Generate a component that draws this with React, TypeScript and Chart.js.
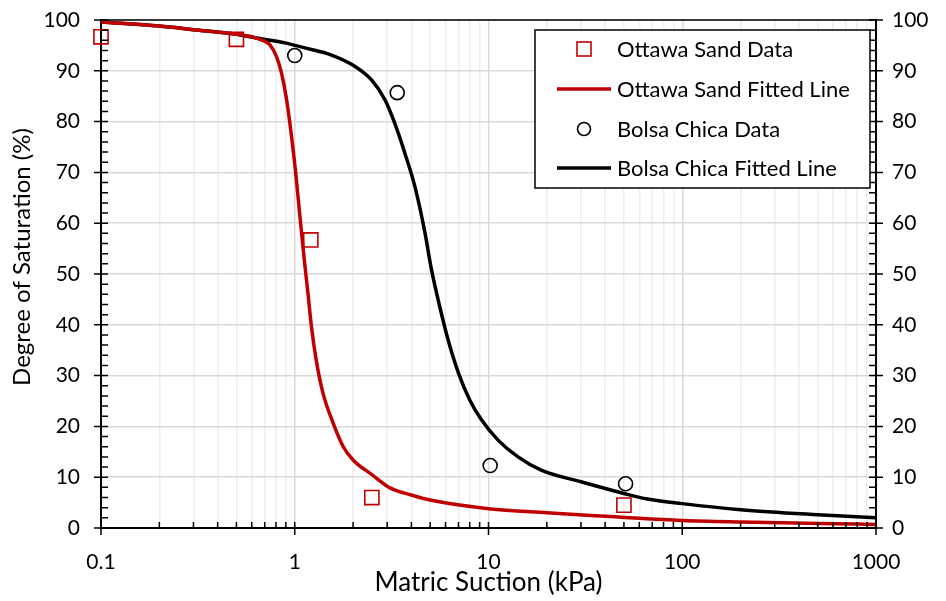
import { useEffect, useRef } from "react";
import { Chart, registerables } from "chart.js";

Chart.register(...registerables);

// ---- data ----
const xDecades = [0.1, 1, 10, 100, 1000];
const xDecadeLabels = ["0.1", "1", "10", "100", "1000"];
const xMinorMultipliers = [2, 3, 4, 5, 6, 7, 8, 9];
const yTickStep = 10;
const yMinorStep = 2;

const ottawaDataX = [0.1, 0.5, 1.21, 2.5, 50];
const ottawaDataY = [96.7, 96.2, 56.7, 6.0, 4.5];

const bolsaDataX = [1.0, 3.38, 10.2, 51];
const bolsaDataY = [93.0, 85.7, 12.3, 8.7];

const ottawaFitX = [0.1, 0.2, 0.3, 0.5, 0.6, 0.65, 0.7, 0.745, 0.805, 0.855, 0.908, 0.963, 1.01, 1.06, 1.12, 1.17, 1.22, 1.29, 1.4, 1.58, 1.78, 2.0, 2.5, 3.1, 4.0, 5.0, 10, 20, 45, 60, 100, 200, 500, 1000];
const ottawaFitY = [99.6, 98.8, 98.1, 97.2, 96.7, 96.3, 95.8, 95.1, 92.8, 89.5, 84.3, 77.0, 70.1, 61.9, 52.8, 46.2, 39.6, 33.1, 26.5, 20.6, 16.0, 13.4, 10.5, 7.9, 6.5, 5.5, 3.8, 3.0, 2.2, 1.9, 1.5, 1.2, 0.9, 0.7];

const bolsaFitX = [0.1, 0.2, 0.3, 0.5, 0.65, 0.89, 1.0, 1.22, 1.5, 2.0, 2.49, 2.92, 3.28, 3.7, 4.17, 4.69, 5.07, 5.6, 6.19, 7.0, 8.0, 9.2, 11.2, 14.2, 18.7, 30, 50, 66, 100, 200, 500, 1000];
const bolsaFitY = [99.6, 98.8, 98.1, 97.2, 96.4, 95.5, 95.0, 94.2, 93.3, 91.1, 88.2, 84.3, 79.7, 73.8, 67.2, 58.3, 51.0, 43.6, 37.0, 30.5, 25.2, 21.3, 17.3, 14.0, 11.4, 9.1, 6.8, 5.7, 4.8, 3.6, 2.6, 2.0];

const seriesLabels = ["Ottawa Sand Data", "Ottawa Sand Fitted Line", "Bolsa Chica Data", "Bolsa Chica Fitted Line"];
const xTitle = "Matric Suction (kPa)";
const yTitle = "Degree of Saturation (%)";

const RED = "#c00000";
const BLACK = "#000000";
const FONT = "Lato, 'Open Sans', sans-serif";

const zip = (xs: number[], ys: number[]) => xs.map((x, i) => ({ x, y: ys[i] }));

const allXTicks: number[] = [];
xDecades.forEach((d, i) => {
  allXTicks.push(d);
  if (i < xDecades.length - 1) xMinorMultipliers.forEach((m) => allXTicks.push(d * m));
});
const isDecade = (v: number) => xDecades.some((d) => Math.abs(d - v) / d < 1e-6);

const decorPlugin = {
  id: "decor",
  afterDraw(chart: any) {
    const { ctx, chartArea: a, scales } = chart;
    const xs = scales.x;
    const ys = scales.y;
    ctx.save();
    ctx.strokeStyle = "#000";
    // top border
    ctx.lineWidth = 1.3;
    ctx.beginPath();
    ctx.moveTo(a.left, a.top);
    ctx.lineTo(a.right, a.top);
    ctx.stroke();
    ctx.lineWidth = 1.5;
    ctx.beginPath();
    allXTicks.forEach((v) => {
      const px = xs.getPixelForValue(v);
      if (isDecade(v)) {
        ctx.moveTo(px, a.bottom - 6);
        ctx.lineTo(px, a.bottom + 7);
      } else {
        ctx.moveTo(px, a.bottom - 6);
        ctx.lineTo(px, a.bottom);
      }
    });
    for (let v = 0; v <= 100; v += yMinorStep) {
      const py = ys.getPixelForValue(v);
      if (v % yTickStep === 0) {
        ctx.moveTo(a.left - 7, py);
        ctx.lineTo(a.left + 7, py);
        ctx.moveTo(a.right - 7, py);
        ctx.lineTo(a.right + 7, py);
      } else {
        ctx.moveTo(a.left, py);
        ctx.lineTo(a.left + 7, py);
        ctx.moveTo(a.right - 7, py);
        ctx.lineTo(a.right, py);
      }
    }
    ctx.stroke();

    // y axis title
    ctx.save();
    ctx.translate(22.5, a.top + 237);
    ctx.rotate(-Math.PI / 2);
    ctx.fillStyle = "#000";
    ctx.font = `24px ${FONT}`;
    ctx.textAlign = "center";
    ctx.textBaseline = "middle";
    ctx.fillText(yTitle, 0, 0);
    ctx.restore();

    // legend
    const bw = 335, bh = 158;
    const bx = a.right - 6 - bw;
    const by = a.top + 10;
    ctx.fillStyle = "#fff";
    ctx.fillRect(bx, by, bw, bh);
    ctx.lineWidth = 1.5;
    ctx.strokeStyle = "#000";
    ctx.strokeRect(bx, by, bw, bh);
    const rows = [19, 59, 99, 138];
    const symX = bx + 49;
    const textX = bx + 82;
    ctx.font = `22px ${FONT}`;
    ctx.textBaseline = "middle";
    ctx.textAlign = "left";
    rows.forEach((dy, i) => {
      const cy = by + dy;
      if (i === 0) {
        ctx.strokeStyle = RED;
        ctx.lineWidth = 1.6;
        ctx.strokeRect(symX - 7, cy - 7, 14, 14);
      } else if (i === 2) {
        ctx.strokeStyle = BLACK;
        ctx.lineWidth = 1.6;
        ctx.beginPath();
        ctx.arc(symX, cy, 6.5, 0, Math.PI * 2);
        ctx.stroke();
      } else {
        ctx.strokeStyle = i === 1 ? RED : BLACK;
        ctx.lineWidth = 3.5;
        ctx.beginPath();
        ctx.moveTo(bx + 22, cy);
        ctx.lineTo(bx + 76, cy);
        ctx.stroke();
      }
      ctx.fillStyle = "#000";
      ctx.fillText(seriesLabels[i], textX, cy + 1);
    });
    ctx.restore();
  },
};

const fixVertical = (w: number) => (scale: any) => {
  scale.width = w;
  scale.paddingTop = 0;
  scale.paddingBottom = 0;
};

export default function App() {
  const ref = useRef<HTMLCanvasElement>(null);
  useEffect(() => {
    document.body.style.margin = "0";
    const canvas = ref.current;
    if (!canvas) return;
    const chart = new Chart(canvas, {
      type: "scatter",
      data: {
        datasets: [
          {
            label: seriesLabels[0],
            data: zip(ottawaDataX, ottawaDataY),
            pointStyle: "rect",
            pointRadius: 10,
            pointBorderColor: RED,
            pointBackgroundColor: "rgba(0,0,0,0)",
            pointBorderWidth: 1.6,
            showLine: false,
            clip: false,
          },
          {
            label: seriesLabels[2],
            data: zip(bolsaDataX, bolsaDataY),
            pointStyle: "circle",
            pointRadius: 7,
            pointBorderColor: BLACK,
            pointBackgroundColor: "rgba(0,0,0,0)",
            pointBorderWidth: 1.6,
            showLine: false,
            clip: false,
          },
          {
            label: seriesLabels[1],
            data: zip(ottawaFitX, ottawaFitY),
            showLine: true,
            borderColor: RED,
            borderWidth: 3.5,
            pointRadius: 0,
            cubicInterpolationMode: "monotone",
            fill: false,
          },
          {
            label: seriesLabels[3],
            data: zip(bolsaFitX, bolsaFitY),
            showLine: true,
            borderColor: BLACK,
            borderWidth: 3.5,
            pointRadius: 0,
            cubicInterpolationMode: "monotone",
            fill: false,
          },
        ],
      },
      options: {
        responsive: false,
        animation: false,
        layout: { padding: { top: 20, left: 0, right: 0, bottom: 0 } },
        plugins: { legend: { display: false }, tooltip: { enabled: false } },
        scales: {
          x: {
            type: "logarithmic",
            min: 0.1,
            max: 1000,
            afterBuildTicks: (scale: any) => {
              scale.ticks = allXTicks.map((v) => ({ value: v }));
            },
            afterFit: (scale: any) => {
              scale.height = 73;
            },
            ticks: {
              autoSkip: false,
              maxRotation: 0,
              padding: 22,
              color: "#000",
              font: { family: FONT, size: 21 },
              callback: (value: any) => {
                const i = xDecades.findIndex((d) => Math.abs(d - value) / d < 1e-6);
                return i >= 0 ? xDecadeLabels[i] : "";
              },
            },
            grid: {
              color: (c: any) => (c.tick && isDecade(c.tick.value) ? "#d9d9d9" : "#eeeeee"),
              lineWidth: 1.5,
              drawTicks: false,
            },
            border: { color: "#000", width: 2 },
            title: {
              display: true,
              text: xTitle,
              color: "#000",
              font: { family: FONT, size: 26 },
              padding: { top: 0, bottom: 3 },
            },
          },
          y: {
            type: "linear",
            position: "left",
            min: 0,
            max: 100,
            afterFit: fixVertical(101),
            ticks: {
              stepSize: yTickStep,
              padding: 21,
              color: "#000",
              font: { family: FONT, size: 21 },
            },
            grid: { color: "#d9d9d9", lineWidth: 1.5, drawTicks: false },
            border: { color: "#000", width: 2 },
          },
          y2: {
            type: "linear",
            position: "right",
            display: true,
            min: 0,
            max: 100,
            afterFit: fixVertical(70),
            ticks: {
              stepSize: yTickStep,
              padding: 16,
              color: "#000",
              font: { family: FONT, size: 21 },
            },
            grid: { drawOnChartArea: false, drawTicks: false },
            border: { color: "#000", width: 2 },
          },
        },
      },
      plugins: [decorPlugin],
    } as any);
    return () => chart.destroy();
  }, []);
  return (
    <div style={{ width: 946, height: 601 }}>
      <canvas ref={ref} width={946} height={601} style={{ display: "block" }} />
    </div>
  );
}
